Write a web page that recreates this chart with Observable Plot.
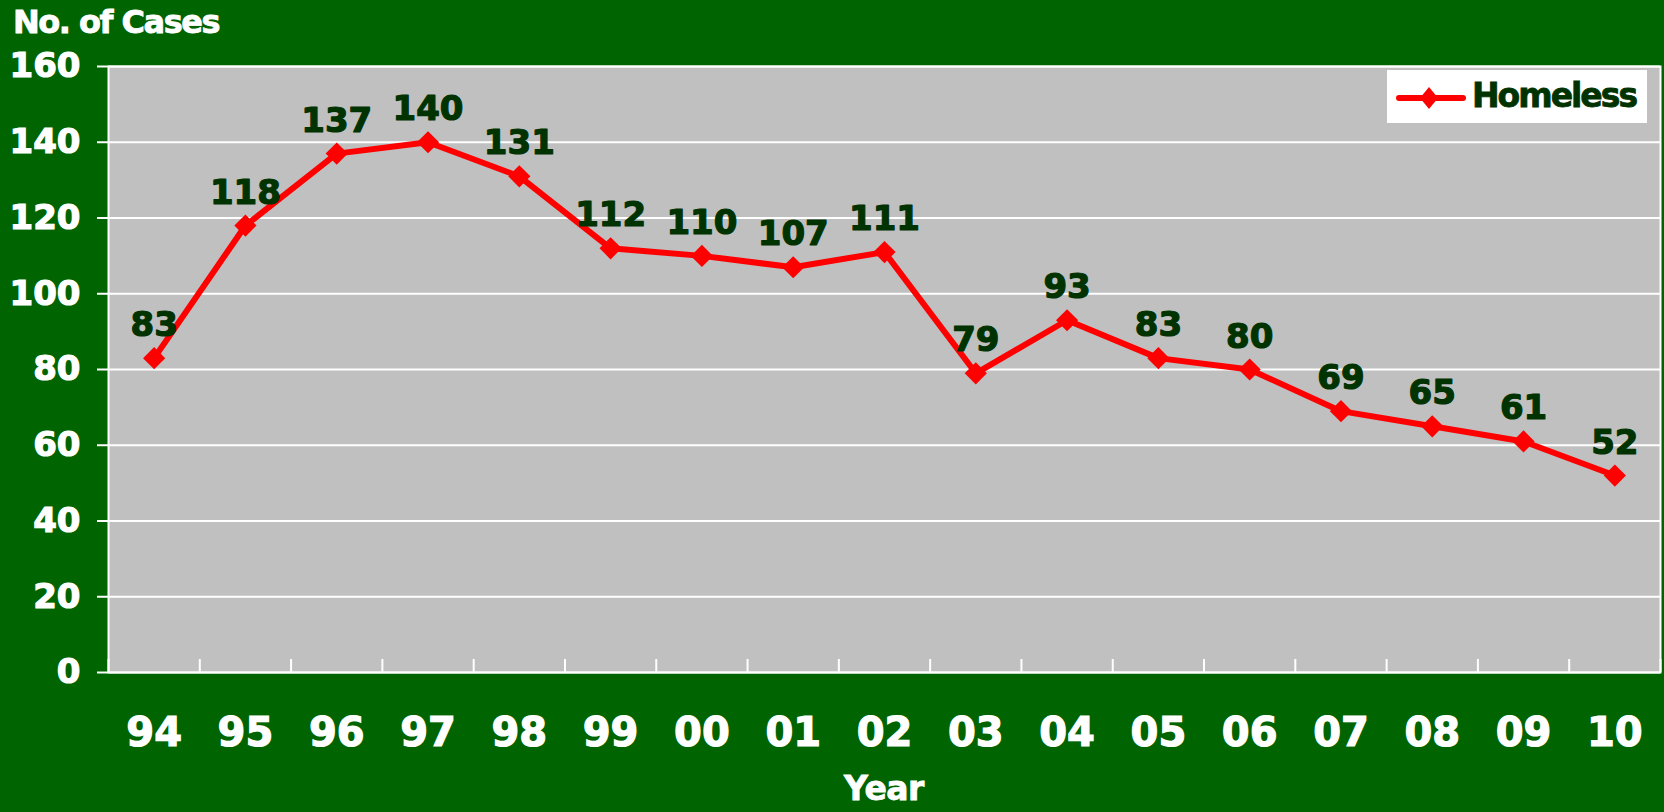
<!DOCTYPE html>
<html>
<head>
<meta charset="utf-8">
<script src="https://cdn.jsdelivr.net/npm/d3@7"></script>
<script src="https://cdn.jsdelivr.net/npm/@observablehq/plot@0.6"></script>
<style>
  html, body { margin: 0; padding: 0; background: #006400; }
  #wrap { position: relative; width: 1664px; height: 812px; overflow: hidden; font-family: "DejaVu Sans", Verdana, sans-serif; font-weight: bold; }
  #title { position: absolute; left: 13px; top: 3px; color: white; font-size: 32px; letter-spacing: -1.5px; -webkit-text-stroke: 0.8px white; }
  #xlabel { position: absolute; left: 108px; width: 1552px; top: 772px; line-height: 34px; text-align: center; color: white; font-size: 33px; letter-spacing: -0.5px; -webkit-text-stroke: 0.8px white; }
  #legend { position: absolute; left: 1387px; top: 70px; width: 260px; height: 53px; background: white; }
  #legend svg { position: absolute; left: 0; top: 0; }
  #legend span { position: absolute; left: 85px; top: 6px; color: #003300; font-size: 33px; letter-spacing: -2px; -webkit-text-stroke: 0.8px #003300; }
  #chart svg g[aria-label="y-axis tick label"] text, #chart svg g[aria-label="x-axis tick label"] text { stroke: white; stroke-width: 1.2px; paint-order: stroke; }
</style>
</head>
<body>
<div id="wrap">
  <div id="chart"></div>
  <div id="title">No. of Cases</div>
  <div id="xlabel">Year</div>
  <div id="legend">
    <svg width="80" height="53"><line x1="12" y1="28" x2="76" y2="28" stroke="red" stroke-width="6" stroke-linecap="round"/><path d="M42,17 L51,28 L42,39 L33,28 Z" fill="red"/></svg>
    <span>Homeless</span>
  </div>
</div>
<script>
const years = ["94","95","96","97","98","99","00","01","02","03","04","05","06","07","08","09","10"];
const cases = [83, 118, 137, 140, 131, 112, 110, 107, 111, 79, 93, 83, 80, 69, 65, 61, 52];
const yTicks = [0, 20, 40, 60, 80, 100, 120, 140, 160];
const seriesName = "Homeless";

const data = years.map((yr, i) => ({i, year: yr, value: cases[i]}));
const idx = years.map((_, i) => i);
const bounds = d3.range(years.length + 1).map(i => i - 0.5);

const plot = Plot.plot({
  width: 1664,
  height: 812,
  marginLeft: 108,
  marginRight: 4,
  marginTop: 66,
  marginBottom: 140,
  style: {background: "transparent", color: "white", fontFamily: "'DejaVu Sans', Verdana, sans-serif", fontWeight: "bold", overflow: "visible"},
  x: {type: "linear", domain: [-0.5, years.length - 0.5]},
  y: {domain: [0, 160]},
  marks: [
    Plot.frame({fill: "#c0c0c0", stroke: "white", strokeWidth: 2}),
    Plot.ruleY(yTicks, {stroke: "white", strokeWidth: 2}),
    Plot.ruleX(bounds, {stroke: "white", strokeWidth: 2, insetTop: 593}),
    Plot.axisY({ticks: yTicks, tickSize: 11, tickPadding: 17, fontSize: 34, strokeWidth: 2, label: null, tickFormat: d => String(d)}),
    Plot.axisX({ticks: idx, tickSize: 0, tickPadding: 45, fontSize: 40, label: null, tickFormat: i => years[i]}),
    Plot.line(data, {x: "i", y: "value", stroke: "red", strokeWidth: 6}),
    Plot.dot(data, {x: "i", y: "value", symbol: "diamond2", r: 10, fill: "red"}),
    Plot.text(data, {x: "i", y: "value", text: d => String(d.value), dy: -22, lineAnchor: "bottom", fontSize: 34, fontWeight: "bold", fill: "#003300", stroke: "#003300", strokeWidth: 1.2})
  ]
});
document.getElementById("chart").appendChild(plot);
</script>
</body>
</html>
